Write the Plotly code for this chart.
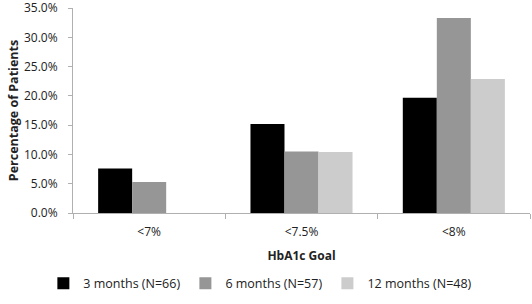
import plotly.graph_objects as go

categories = ["<7%", "<7.5%", "<8%"]
series_names = ["3 months (N=66)", "6 months (N=57)", "12 months (N=48)"]
values_3m = [7.6, 15.2, 19.7]
values_6m = [5.3, 10.5, 33.3]
values_12m = [None, 10.4, 22.9]
colors = ["#000000", "#969696", "#cccccc"]
y_ticks = [0, 5, 10, 15, 20, 25, 30, 35]
y_tick_labels = ["0.0%", "5.0%", "10.0%", "15.0%", "20.0%", "25.0%", "30.0%", "35.0%"]

fig = go.Figure()
for name, vals, col in zip(series_names, [values_3m, values_6m, values_12m], colors):
    fig.add_trace(go.Bar(x=categories, y=vals, name=name, marker=dict(color=col, line=dict(width=0))))

font = "Open Sans, Liberation Sans, sans-serif"
fig.update_layout(
    width=532, height=304,
    margin=dict(l=73, r=2, t=8, b=91, autoexpand=False),
    paper_bgcolor="white", plot_bgcolor="white",
    barmode="group", bargap=0.33, bargroupgap=0,
    hovermode=False,
    font=dict(family=font, size=12, color="#222222"),
    legend=dict(orientation="h", x=0.41, xanchor="center",
                y=-0.345, yanchor="middle",
                font=dict(size=12.5), itemwidth=30, tracegroupgap=0),
    xaxis=dict(showline=True, linecolor="#b0b0b0", linewidth=1, ticks="outside",
               tickson="boundaries", ticklen=5, tickcolor="#b0b0b0", showgrid=False,
               tickfont=dict(size=12), ticklabelstandoff=8,
               title=dict(text="<b>HbA1c Goal</b>", font=dict(size=12), standoff=12)),
    yaxis=dict(range=[0, 35.02], tickvals=y_ticks, ticktext=y_tick_labels, showline=True,
               linecolor="#b0b0b0", linewidth=1, ticks="outside", ticklen=4,
               tickcolor="#b0b0b0", showgrid=False, zeroline=False,
               tickfont=dict(size=12), ticklabeloverflow="allow", ticklabelstandoff=8,
               title=dict(text="<b>Percentage of Patients</b>", font=dict(size=12.5), standoff=2)),
)
post = (
    "document.body.style.margin='0';"
    "var gd=document.getElementById('{plot_id}');"
    "Plotly.newPlot(gd, gd.data, gd.layout, {displayModeBar:false});"
)
fig.write_html("out.html", config={"displayModeBar": False}, post_script=post)
